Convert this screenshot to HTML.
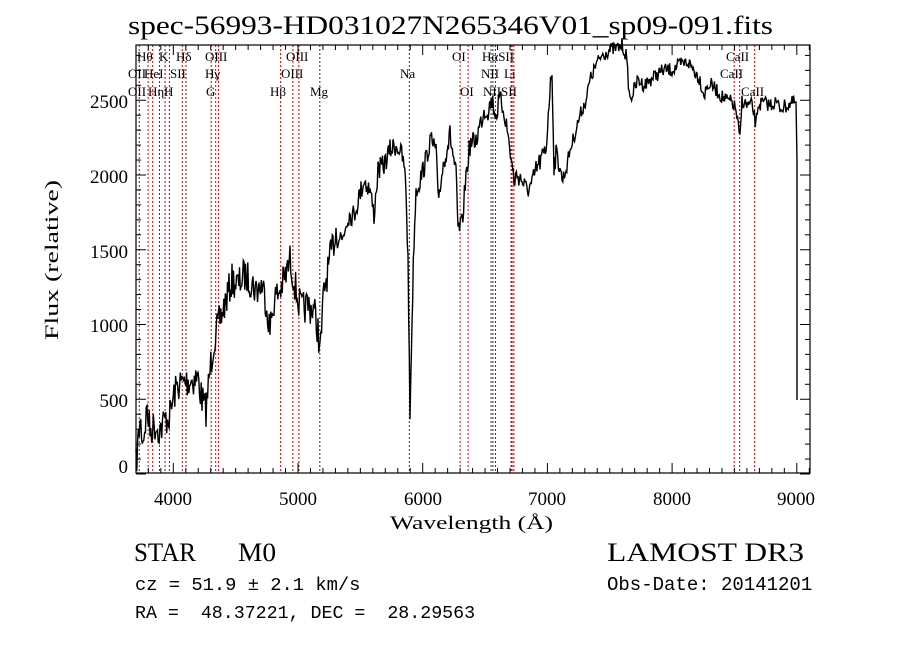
<!DOCTYPE html>
<html><head><meta charset="utf-8"><style>
html,body{margin:0;padding:0;background:#fff;}
svg{display:block;}
text{font-family:"Liberation Serif",serif;fill:#000;white-space:pre;}
text.m{font-family:"Liberation Mono",monospace;}
</style></head><body>
<svg id="s" width="900" height="649" viewBox="0 0 900 649" xmlns="http://www.w3.org/2000/svg" xml:space="preserve">
<rect width="900" height="649" fill="#fff"/>
<g id="lines"></g>
<g id="ticks" stroke="#000" stroke-width="1"></g>
<rect x="136" y="45" width="674" height="428" fill="none" stroke="#000" stroke-width="1.2"/>
<polyline id="spec" fill="none" stroke="#000" stroke-width="1.4"/>
<text x="128" y="34" font-size="26" textLength="645" lengthAdjust="spacingAndGlyphs">spec-56993-HD031027N265346V01_sp09-091.fits</text>
<g font-size="19" text-anchor="middle">
<text x="173" y="505">4000</text><text x="298" y="505">5000</text><text x="423" y="505">6000</text>
<text x="547" y="505">7000</text><text x="672" y="505">8000</text><text x="796" y="505">9000</text>
</g>
<g font-size="19" text-anchor="end">
<text x="128" y="473">0</text><text x="128" y="407">500</text><text x="128" y="332">1000</text>
<text x="128" y="258">1500</text><text x="128" y="183">2000</text><text x="128" y="108">2500</text>
</g>
<text x="390" y="529" font-size="19" textLength="163" lengthAdjust="spacingAndGlyphs">Wavelength (Å)</text>
<text transform="translate(58,340) rotate(-90)" font-size="19" textLength="160" lengthAdjust="spacingAndGlyphs">Flux (relative)</text>
<text x="134" y="561" font-size="26" textLength="62" lengthAdjust="spacingAndGlyphs">STAR</text><text x="238" y="561" font-size="26" textLength="38" lengthAdjust="spacingAndGlyphs">M0</text>
<text x="607" y="561" font-size="26" textLength="197" lengthAdjust="spacingAndGlyphs">LAMOST DR3</text>
<text class="m" x="135" y="590" font-size="18.8">cz = 51.9 ± 2.1 km/s</text>
<text class="m" x="607" y="590" font-size="19">Obs-Date: 20141201</text>
<text class="m" x="135" y="618" font-size="18.3">RA =  48.37221, DEC =  28.29563</text>
<g id="lab" font-size="13"></g>
</svg>
<script>
var X=function(w){return 173.3+(w-4000)*0.1247;};
var ns="http://www.w3.org/2000/svg";
function el(p,t,a,txt){var e=document.createElementNS(ns,t);for(var k in a)e.setAttribute(k,a[k]);if(txt)e.textContent=txt;document.getElementById(p).appendChild(e);}
var L=[[3727,'r'],[3798,'r'],[3835,'r'],[3889,'r'],[3934,'r'],[3969,'r'],[4072,'r'],[4102,'k'],[4304,'r'],[4340,'r'],[4363,'r'],[4861,'r'],[4959,'r'],[5007,'r'],[5175,'k'],[5893,'k'],[6300,'r'],[6364,'r'],[6548,'k'],[6563,'k'],[6583,'k'],[6708,'r'],[6717,'r'],[6731,'r'],[8498,'r'],[8542,'r'],[8662,'r']];
L.forEach(function(l){var x=X(l[0]);el('lines','line',{x1:x,x2:x,y1:45,y2:473,stroke:l[1]=='r'?'#c00000':'#333','stroke-width':1,'stroke-dasharray':'2,2'});});
var labs=[["Hθ",137,61],["K",159,61],["Hδ",176,61],["OIII",205,61],["OIII",286,61],["OI",452,61],["HαSII",482,61],["CaII",726,61],
["OII",128,78],["HeI",144,78],["SII",170,78],["Hγ",205,78],["OIII",281,78],["Na",400,78],["NII",481,78],["Li",504,78],["CaII",720,78],
["OII",128,96],["Hη",148,96],["H",164,96],["G",206,96],["Hβ",270,96],["Mg",310,96],["OI",460,96],["NIISII",483,96],["CaII",741,96]];
labs.forEach(function(a){el('lab','text',{x:a[1],y:a[2]},a[0]);});
for(var w=3700;w<=9100;w+=100){var x=X(w);if(x<136||x>810)continue;var m=(w%1000==0)?10:5;
el('ticks','line',{x1:x,x2:x,y1:473,y2:473-m});el('ticks','line',{x1:x,x2:x,y1:45,y2:45+m});}
for(var f=0;f<=2800;f+=100){var y=474-0.1495*f;if(y<45)continue;var m=(f%500==0)?10:5;
el('ticks','line',{x1:136,x2:136+m,y1:y,y2:y});el('ticks','line',{x1:810,x2:810-m,y1:y,y2:y});}
var P=[136,466,140,420,143,440,147,410,150,430,155,425,160,430,165,420,170,415,174,395,178,385,185,382,192,380,198,378,202,400,206,410,210,370,214,340,220,320,226,300,232,280,238,285,244,275,250,280,256,290,262,285,266,300,270,330,274,300,280,290,286,275,290,260,294,280,298,300,302,310,308,305,314,310,318,330,320,355,324,290,330,260,336,230,342,240,348,215,354,215,358,200,364,180,370,190,374,215,378,170,384,165,390,150,396,145,400,150,404,165,406,190,408,260,410,415,412,320,414,240,416,190,420,180,426,160,430,140,436,150,438,200,444,160,450,135,456,175,458,230,462,225,466,175,470,145,476,140,480,125,484,110,488,110,492,100,496,115,500,100,504,110,508,135,512,165,514,180,518,175,522,180,526,190,532,185,536,170,540,162,546,150,549,100,552,70,554,165,556,155,560,165,562,180,566,170,570,150,576,130,580,115,586,100,590,80,596,65,602,55,610,50,618,48,622,45,626,55,630,100,634,90,638,80,644,85,650,80,656,75,664,70,672,70,680,65,688,62,694,70,700,80,704,95,708,85,712,85,716,90,720,95,726,100,732,102,736,110,740,140,742,100,746,105,752,105,756,125,758,105,764,103,770,105,776,102,780,108,786,106,792,103,796,102];
var seed=7;function rnd(){seed=(seed*16807)%2147483647;return seed/2147483647-0.5;}
var pts=[];
for(var i=0;i<P.length-2;i+=2){var x0=P[i],y0=P[i+1],x1=P[i+2],y1=P[i+3];var n=Math.max(1,Math.round((x1-x0)/0.8));
for(var j=0;j<n;j++){var t=j/n;var amp=(x0<340)?34:(x0<560?22:14);pts.push((x0+(x1-x0)*t).toFixed(1)+','+(y0+(y1-y0)*t+rnd()*amp).toFixed(1));}}
pts.push('796,102','797,160','797,400');
document.getElementById('spec').setAttribute('points',pts.join(' '));
</script>
</body></html>
